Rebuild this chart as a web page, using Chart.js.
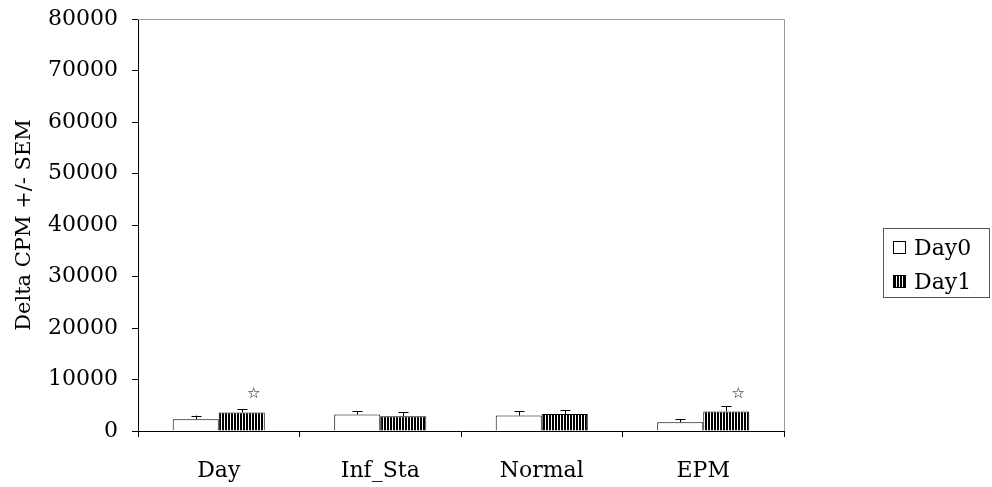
<!DOCTYPE html>
<html>
<head>
  <meta charset="utf-8">
  <title>Delta CPM</title>
  <script src="https://cdn.jsdelivr.net/npm/chart.js@4.4.1/dist/chart.umd.min.js"></script>
  <style>
    body { margin: 0; background: #fff; }
    #wrap { position: relative; width: 992px; height: 487px; }
    #legend {
      position: absolute; left: 883px; top: 228px; width: 107px; height: 70px;
      border: 1px solid #555; box-sizing: border-box;
      font-family: "DejaVu Serif", serif; font-size: 22px; color: #000;
    }
    #legend .row { position: absolute; left: 9px; height: 26px; line-height: 26px; white-space: nowrap; }
    #legend .sw { display: inline-block; width: 11px; height: 11px; border: 1px solid #000; vertical-align: middle; margin-right: 8px; position: relative; top: -2px; }
  </style>
</head>
<body>
<div id="wrap">
  <canvas id="chart" width="992" height="487"></canvas>
  <div id="legend">
    <div class="row" style="top:6px"><span class="sw" style="background:#fff"></span>Day0</div>
    <div class="row" style="top:40px"><span class="sw" style="background:repeating-linear-gradient(90deg,#000 0 2px,#fff 2px 3px)"></span>Day1</div>
  </div>
</div>
<script>
  var categories = ['Day', 'Inf_Sta', 'Normal', 'EPM'];
  var day0 = [2300, 3200, 3000, 1700];
  var day0Sem = [700, 600, 850, 650];
  var day1 = [3600, 2850, 3300, 3800];
  var day1Sem = [600, 800, 800, 1000];
  var day1Marks = ['\u2606', '', '', '\u2606'];
  var markLevel = 7200;

  var ctx = document.getElementById('chart').getContext('2d');

  // vertical stripes for Day1
  var tile = document.createElement('canvas');
  tile.width = 3; tile.height = 3;
  var tctx = tile.getContext('2d');
  tctx.fillStyle = '#fff'; tctx.fillRect(0, 0, 3, 3);
  tctx.fillStyle = '#000'; tctx.fillRect(0, 0, 2, 3);
  var stripes = ctx.createPattern(tile, 'repeat');

  var serif = '"DejaVu Serif", serif';

  var extras = {
    id: 'extras',
    afterDatasetsDraw: function(chart) {
      var c = chart.ctx, a = chart.chartArea, y = chart.scales.y;
      c.save();
      // plot border top / right
      c.strokeStyle = '#999'; c.lineWidth = 1;
      c.beginPath();
      c.moveTo(a.left, a.top + 0.5); c.lineTo(a.right + 0.5, a.top + 0.5);
      c.lineTo(a.right + 0.5, a.bottom);
      c.stroke();
      // error bars (upper only)
      var sems = [day0Sem, day1Sem];
      c.strokeStyle = '#000';
      chart.data.datasets.forEach(function(ds, di) {
        chart.getDatasetMeta(di).data.forEach(function(bar, i) {
          var top = y.getPixelForValue(ds.data[i] + sems[di][i]);
          var x = Math.round(bar.x) + 0.5;
          c.beginPath();
          c.moveTo(x, bar.y); c.lineTo(x, top);
          c.moveTo(x - 5, Math.round(top) + 0.5); c.lineTo(x + 5, Math.round(top) + 0.5);
          c.stroke();
          if (di === 1 && day1Marks[i]) {
            c.fillStyle = '#000';
            c.font = 'bold 15px "DejaVu Sans", sans-serif';
            c.textAlign = 'center'; c.textBaseline = 'middle';
            c.fillText(day1Marks[i], bar.x + 12, y.getPixelForValue(markLevel));
          }
        });
      });
      c.restore();
    }
  };

  new Chart(ctx, {
    type: 'bar',
    data: {
      labels: categories,
      datasets: [
        { label: 'Day0', data: day0, backgroundColor: '#fff', borderColor: '#000', borderWidth: 1 },
        { label: 'Day1', data: day1, backgroundColor: stripes, borderColor: '#000', borderWidth: 1 }
      ]
    },
    options: {
      responsive: false,
      animation: false,
      events: [],
      layout: { padding: { top: 19, right: 208, left: 0, bottom: 0 } },
      categoryPercentage: 0.57,
      barPercentage: 1.0,
      plugins: { legend: { display: false }, tooltip: { enabled: false } },
      scales: {
        x: {
          grid: { offset: true, drawOnChartArea: false, tickLength: 6, color: '#000' },
          border: { color: '#000' },
          ticks: { color: '#000', padding: 21, font: { family: serif, size: 22 } },
          afterFit: function(s) { s.height = 56; s.paddingLeft = 0; s.paddingRight = 0; }
        },
        y: {
          min: 0, max: 80000,
          ticks: { stepSize: 10000, color: '#000', padding: 14, font: { family: serif, size: 22 },
                   callback: function(v) { return String(v); } },
          grid: { drawOnChartArea: false, tickLength: 6, color: '#000' },
          border: { color: '#000' },
          title: { display: true, text: 'Delta CPM +/- SEM', color: '#000', padding: { top: 12, bottom: 0 }, font: { family: serif, size: 21 } },
          afterFit: function(s) { s.width = 138; s.paddingTop = 0; s.paddingBottom = 0; }
        }
      }
    },
    plugins: [extras]
  });
</script>
</body>
</html>
